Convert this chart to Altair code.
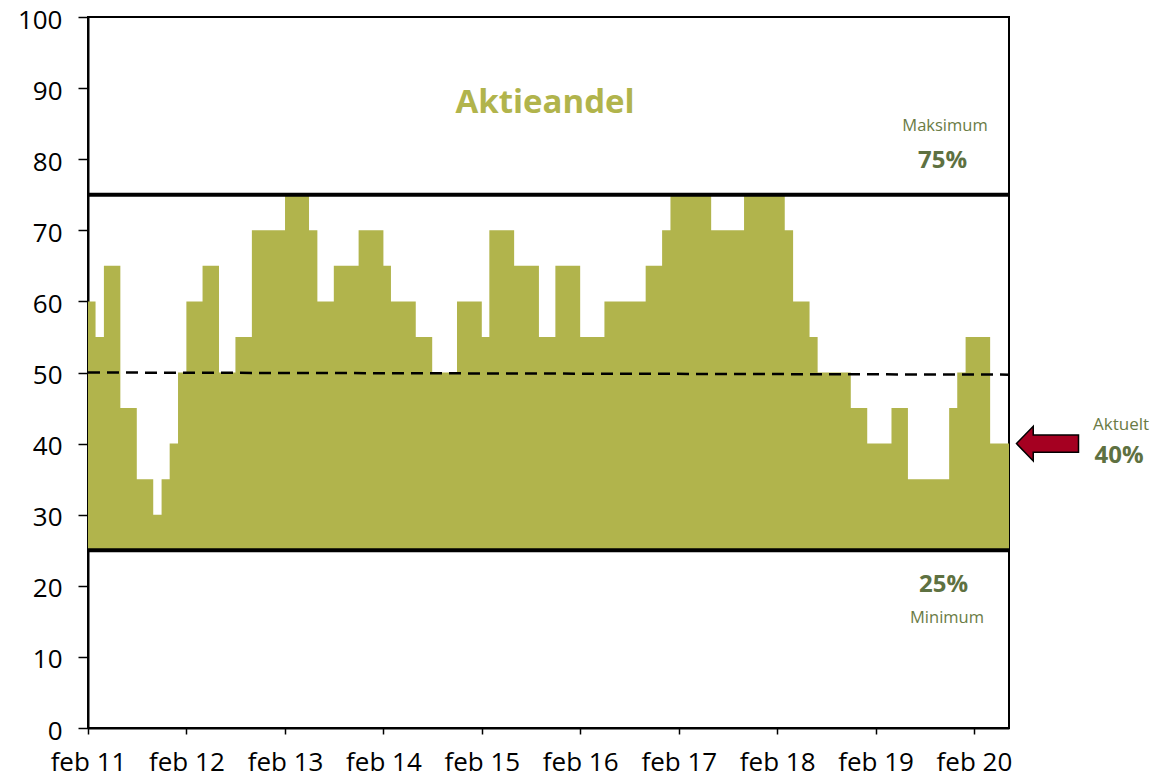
import altair as alt
import pandas as pd

# ---- data -------------------------------------------------------------
first_month = "2011-02-01"
domain_end = "2020-06-10"
equity_share = [
    60, 55, 65, 65, 45, 45, 35, 35, 30, 35, 40, 50,
    60, 60, 65, 65, 50, 50, 55, 55, 70, 70, 70, 70,
    75, 75, 75, 70, 60, 60, 65, 65, 65, 70, 70, 70,
    65, 60, 60, 60, 55, 55, 50, 50, 50, 60, 60, 60,
    55, 70, 70, 70, 65, 65, 65, 55, 55, 65, 65, 65,
    55, 55, 55, 60, 60, 60, 60, 60, 65, 65, 70, 75,
    75, 75, 75, 75, 70, 70, 70, 70, 75, 75, 75, 75,
    75, 70, 60, 60, 55, 50, 50, 50, 50, 45, 45, 40,
    40, 40, 45, 45, 35, 35, 35, 35, 35, 45, 50, 55,
    55, 55, 40, 40,
]
min_level = 25
max_level = 75
neutral_start, neutral_end = 50, 49.7
current = 40
tick_years = list(range(2011, 2021))

# ---- frames -------------------------------------------------------------
dates = list(pd.date_range(first_month, periods=len(equity_share), freq="MS"))
dates.append(pd.Timestamp(domain_end))
series = pd.DataFrame({"date": dates, "share": equity_share + [equity_share[-1]]})
levels = pd.DataFrame({"level": [min_level, max_level]})
neutral = pd.DataFrame({
    "x": [pd.Timestamp(first_month)], "x2": [pd.Timestamp(domain_end)],
    "y": [neutral_start], "y2": [neutral_end],
})
now = pd.DataFrame({"current": [current]})

FILL = "#B1B44C"
OLIVE = "#6A7B45"
OLIVE_DARK = "#5E7141"
FONT = "Open Sans"

x_scale = alt.Scale(
    domain=[alt.DateTime(year=2011, month=2, date=1),
            alt.DateTime(year=2020, month=6, date=10)],
    nice=False,
)
y_scale = alt.Scale(domain=[0, 100], nice=False)

x_axis = alt.Axis(
    values=[alt.DateTime(year=y, month=2, date=1) for y in tick_years],
    labelExpr="'feb ' + timeFormat(datum.value, '%y')",
    title=None, grid=False, tickSize=6, labelPadding=15,
    labelOverlap=False, labelFlush=False,
)
y_axis = alt.Axis(
    values=list(range(0, 101, 10)), title=None, grid=False,
    tickSize=10, labelPadding=16, labelOffset=3, labelFlush=False,
)

area = alt.Chart(series).mark_area(
    interpolate="step-after", color=FILL, opacity=1
).encode(
    x=alt.X("date:T", scale=x_scale, axis=x_axis),
    y=alt.Y("share:Q", scale=y_scale, axis=y_axis),
    y2=alt.datum(min_level),
)

limit_rules = alt.Chart(levels).mark_rule(color="black", strokeWidth=4).encode(
    y=alt.Y("level:Q", scale=y_scale)
)

neutral_rule = alt.Chart(neutral).mark_rule(
    color="black", strokeWidth=2.5, strokeDash=[12, 7]
).encode(
    x=alt.X("x:T", scale=x_scale), x2="x2:T",
    y=alt.Y("y:Q", scale=y_scale), y2="y2:Q",
)

arrow_path = "M -1 0 L -0.46 -0.56 L -0.46 -0.28 L 1 -0.28 L 1 0.28 L -0.46 0.28 L -0.46 0.56 Z"
arrow = alt.Chart(now).mark_point(
    shape=arrow_path, size=3844, filled=True, fill="#A50021",
    stroke="black", strokeWidth=1.5, opacity=1,
).encode(
    x=alt.value(959.5),
    y=alt.Y("current:Q", scale=y_scale),
)


def label(text, x, y, size, bold, color):
    return alt.Chart(pd.DataFrame({"t": [text]})).mark_text(
        font=FONT, fontSize=size, fontWeight="bold" if bold else "normal",
        color=color, align="center", baseline="alphabetic",
    ).encode(text="t:N", x=alt.value(x), y=alt.value(y))


labels = [
    label("Aktieandel", 457, 96, 33, True, FILL),
    label("Maksimum", 857, 114, 16.5, False, OLIVE),
    label("75%", 854.5, 151, 24, True, OLIVE_DARK),
    label("25%", 855.5, 574.5, 24, True, OLIVE_DARK),
    label("Minimum", 859, 605.5, 16.5, False, OLIVE),
    label("Aktuelt", 1033, 413, 17, False, OLIVE),
    label("40%", 1031, 446, 24, True, OLIVE_DARK),
]

chart = alt.layer(area, limit_rules, neutral_rule, arrow, *labels).properties(
    width=921, height=711,
    autosize=alt.AutoSizeParams(type="none"),
    padding={"left": 80, "top": 9, "right": 150, "bottom": 52},
).configure_view(
    stroke="black", strokeWidth=2
).configure_axis(
    domainColor="black", domainWidth=2, tickColor="black", tickWidth=1.5,
    labelFont=FONT, labelFontSize=26, labelColor="black",
)

chart.save("out.html", embed_options={"renderer": "svg", "actions": False})
